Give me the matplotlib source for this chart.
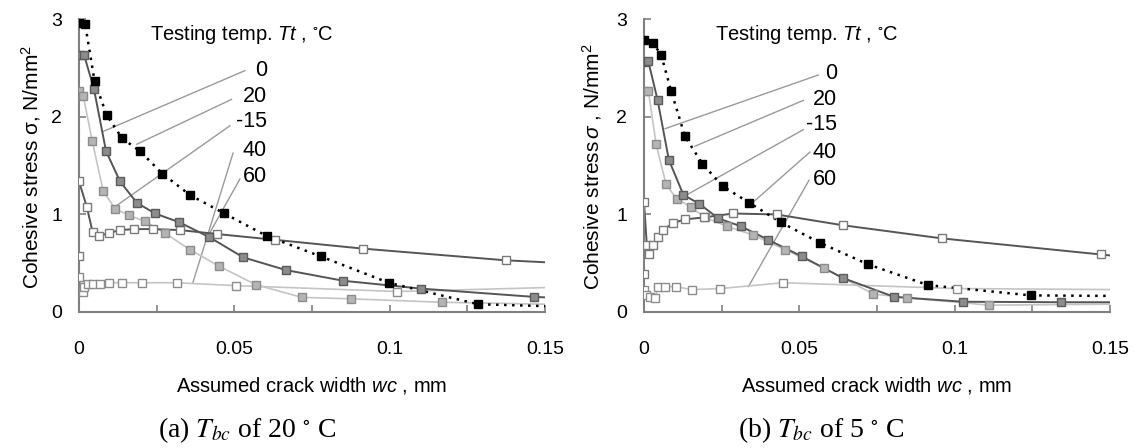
import numpy as np
import matplotlib.pyplot as plt

plt.rcParams['font.family'] = ['Liberation Sans', 'DejaVu Sans']
plt.rcParams['mathtext.fontset'] = 'custom'
plt.rcParams['mathtext.rm'] = 'Liberation Sans'
plt.rcParams['mathtext.it'] = 'Liberation Sans:italic'
plt.rcParams['mathtext.bf'] = 'Liberation Sans:bold'

# crack width wc (mm) and cohesive stress (N/mm2), Tbc = 20 C
w0_a = [0, 0.002, 0.005, 0.0089, 0.0139, 0.0196, 0.0268, 0.0357, 0.0468, 0.0604, 0.0778, 0.0997, 0.1284, 0.15]
s0_a = [2.96, 2.95, 2.37, 2.02, 1.78, 1.65, 1.42, 1.20, 1.01, 0.78, 0.57, 0.30, 0.08, 0.06]
w20_a = [0, 0.0016, 0.0048, 0.0087, 0.0132, 0.0186, 0.0245, 0.0323, 0.0418, 0.0529, 0.0666, 0.0851, 0.11, 0.1464, 0.15]
s20_a = [2.64, 2.64, 2.29, 1.65, 1.34, 1.12, 1.01, 0.92, 0.77, 0.56, 0.43, 0.32, 0.24, 0.155, 0.15]
wm15_a = [0, 0.0014, 0.0043, 0.0078, 0.0116, 0.0161, 0.0213, 0.0276, 0.0357, 0.0451, 0.0569, 0.0717, 0.0874, 0.1168, 0.15]
sm15_a = [2.27, 2.21, 1.75, 1.24, 1.06, 0.99, 0.93, 0.81, 0.64, 0.47, 0.28, 0.15, 0.135, 0.10, 0.08]
w40_a = [0, 0, 0.0025, 0.0044, 0.0065, 0.0097, 0.0132, 0.0178, 0.0239, 0.0325, 0.0443, 0.0631, 0.0913, 0.1373, 0.15]
s40_a = [0.57, 1.34, 1.08, 0.82, 0.78, 0.81, 0.84, 0.85, 0.85, 0.84, 0.80, 0.74, 0.65, 0.53, 0.51]
w60_a = [0, 0.0013, 0.0016, 0.003, 0.0044, 0.0067, 0.0097, 0.0137, 0.0202, 0.0314, 0.0507, 0.1025, 0.15]
s60_a = [0.36, 0.21, 0.26, 0.285, 0.29, 0.29, 0.30, 0.30, 0.30, 0.30, 0.27, 0.21, 0.25]

# Tbc = 5 C
w0_b = [0, 0.0028, 0.0055, 0.0087, 0.0132, 0.0188, 0.0253, 0.0339, 0.044, 0.0566, 0.072, 0.0915, 0.1246, 0.15]
s0_b = [2.79, 2.76, 2.64, 2.27, 1.80, 1.52, 1.29, 1.12, 0.92, 0.71, 0.49, 0.275, 0.17, 0.165]
w20_b = [0, 0.0014, 0.0044, 0.008, 0.0127, 0.0178, 0.0239, 0.0311, 0.04, 0.0508, 0.0639, 0.0805, 0.1028, 0.1342, 0.15]
s20_b = [2.56, 2.57, 2.17, 1.56, 1.20, 1.11, 0.96, 0.88, 0.74, 0.57, 0.35, 0.155, 0.105, 0.10, 0.10]
wm15_b = [0, 0.0014, 0.0039, 0.0071, 0.0105, 0.015, 0.0196, 0.0266, 0.035, 0.0454, 0.0579, 0.0738, 0.0848, 0.1111, 0.15]
sm15_b = [2.27, 2.27, 1.72, 1.31, 1.16, 1.08, 0.97, 0.88, 0.79, 0.64, 0.45, 0.185, 0.145, 0.07, 0.08]
w40_b = [0, 0, 0.0009, 0.0017, 0.003, 0.0046, 0.0062, 0.0092, 0.0132, 0.0194, 0.0287, 0.0427, 0.0639, 0.0958, 0.147, 0.15]
s40_b = [0.39, 1.13, 0.69, 0.59, 0.69, 0.77, 0.84, 0.91, 0.95, 0.97, 1.01, 1.00, 0.89, 0.755, 0.59, 0.58]
w60_b = [0, 0.0006, 0.0019, 0.0035, 0.0046, 0.0068, 0.0102, 0.0153, 0.0245, 0.0448, 0.1008, 0.15]
s60_b = [0.225, 0.17, 0.157, 0.14, 0.26, 0.26, 0.26, 0.23, 0.24, 0.30, 0.24, 0.23]

temps = ['0', '20', '-15', '40', '60']

styles = {
    '0':   dict(color='black', ls=(0, (1, 2.2)), lw=1.8, mfc='black', mec='black'),
    '20':  dict(color='#555555', ls='-', lw=1.4, mfc='#8c8c8c', mec='#5a5a5a'),
    '-15': dict(color='#c4c4c4', ls='-', lw=1.2, mfc='#b4b4b4', mec='#8c8c8c'),
    '40':  dict(color='#555555', ls='-', lw=1.4, mfc='white', mec='#7a7a7a'),
    '60':  dict(color='#c4c4c4', ls='-', lw=1.2, mfc='white', mec='#8c8c8c'),
}

fig = plt.figure(figsize=(11.38, 4.48), dpi=100)
ax_a = fig.add_axes([0.0694, 0.3036, 0.4095, 0.653])
ax_b = fig.add_axes([0.5659, 0.3036, 0.4095, 0.653])

series_a = {'0': (w0_a, s0_a), '20': (w20_a, s20_a), '-15': (wm15_a, sm15_a),
            '40': (w40_a, s40_a), '60': (w60_a, s60_a)}
series_b = {'0': (w0_b, s0_b), '20': (w20_b, s20_b), '-15': (wm15_b, sm15_b),
            '40': (w40_b, s40_b), '60': (w60_b, s60_b)}

# leader lines: (label right edge, line start, line end) in data units
leaders_a = {
    '0':   ((0.0605, 2.48), (0.0534, 2.475), (0.0077, 1.85)),
    '20':  ((0.0605, 2.21), (0.0491, 2.18), (0.0186, 1.72)),
    '-15': ((0.0605, 1.95), (0.0486, 1.91), (0.0116, 1.08)),
    '40':  ((0.0605, 1.66), (0.0496, 1.63), (0.0366, 0.294)),
    '60':  ((0.0605, 1.39), (0.0518, 1.364), (0.0414, 0.772)),
}
leaders_b = {
    '0':   ((0.0621, 2.45), (0.0561, 2.43), (0.0068, 1.88)),
    '20':  ((0.0621, 2.18), (0.0513, 2.17), (0.0164, 1.70)),
    '-15': ((0.0621, 1.92), (0.0513, 1.87), (0.0137, 1.20)),
    '40':  ((0.0621, 1.64), (0.0534, 1.64), (0.0335, 1.08)),
    '60':  ((0.0621, 1.36), (0.0531, 1.35), (0.0336, 0.26)),
}


def draw_panel(ax, series, leaders, ylabel, ylabel_x):
    for t in ['-15', '60', '40', '20', '0']:
        w, s = series[t]
        st = styles[t]
        ax.plot(w, s, color=st['color'], ls=st['ls'], lw=st['lw'], zorder=2)
        ax.plot(w[:-1], s[:-1], ls='none', marker='s', ms=5.5, mew=1.0,
                mfc=st['mfc'], mec=st['mec'], zorder=3)
    for t in temps:
        lab, p0, p1 = leaders[t]
        ax.plot([p0[0], p1[0]], [p0[1], p1[1]], color='#9a9a9a', lw=1.0, zorder=1)
        ax.text(lab[0], lab[1], t, ha='right', va='center', fontsize=15.5)

    ax.set_xlim(0, 0.15)
    ax.set_ylim(0, 3)
    ax.set_xticks([0, 0.05, 0.1, 0.15])
    ax.set_xticklabels(['0', '0.05', '0.1', '0.15'])
    ax.set_xticks([0.025, 0.075, 0.125], minor=True)
    ax.set_yticks([0, 1, 2, 3])
    ax.set_yticklabels(['0', '1', '2', '3'])
    for sp in ['top', 'right']:
        ax.spines[sp].set_visible(False)
    for sp in ['left', 'bottom']:
        ax.spines[sp].set_color('#808080')
        ax.spines[sp].set_linewidth(1.5)
    ax.tick_params(axis='both', which='both', direction='in', length=5,
                   width=1.2, color='#808080', labelsize=14)
    ax.tick_params(axis='x', which='major', pad=21)
    ax.tick_params(axis='y', which='major', pad=12)

    ax.text(0.0229, 2.85, 'Testing temp. $\\mathit{Tt}$ , $\\mathregular{^{\\circ}}$C',
            ha='left', va='center', fontsize=14.5)
    ax.set_xlabel('Assumed crack width $\\mathit{wc}$ , mm', fontsize=14.5, labelpad=12)
    fig.text(ylabel_x, 0.627, ylabel, rotation=90, ha='center', va='center', fontsize=15)


draw_panel(ax_a, series_a, leaders_a, 'Cohesive stress σ, N/mm$^2$', 0.0272)
draw_panel(ax_b, series_b, leaders_b, 'Cohesive stress$\\,\\mathit{σ}$ , N/mm$^2$', 0.5205)

fig.text(0.2175, 0.04, '(a) $T_{bc}$ of 20 $^{\\circ}$ C', ha='center', va='center',
         fontsize=20, family='Liberation Serif', math_fontfamily='stix')
fig.text(0.7215, 0.04, '(b) $T_{bc}$ of 5 $^{\\circ}$ C', ha='center', va='center',
         fontsize=20, family='Liberation Serif', math_fontfamily='stix')

fig.savefig('out.png', dpi=100)
